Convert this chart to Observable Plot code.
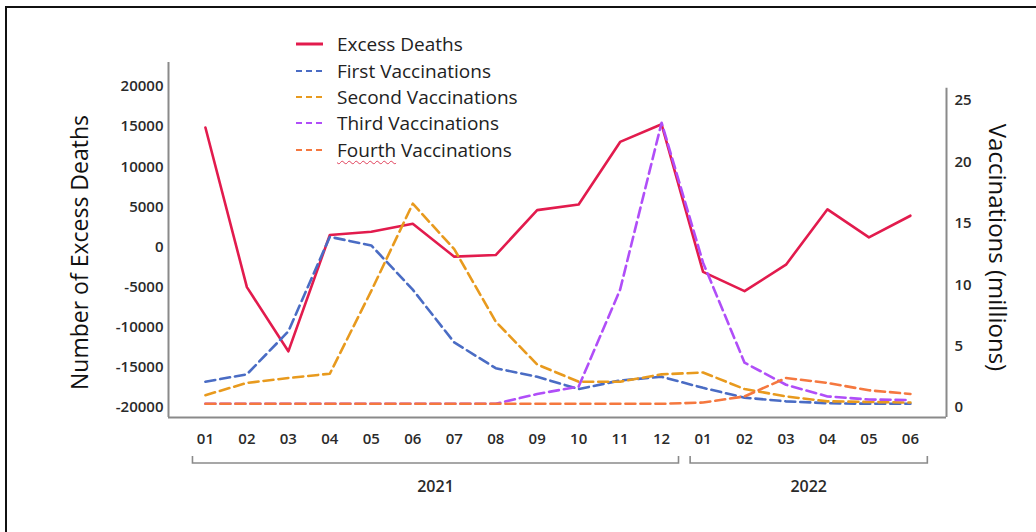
<!DOCTYPE html>
<html>
<head>
<meta charset="utf-8">
<script src="https://cdn.jsdelivr.net/npm/d3@7"></script>
<script src="https://cdn.jsdelivr.net/npm/@observablehq/plot@0.6"></script>
<style>
  html, body { margin: 0; padding: 0; background: #fff; }
  #wrap { position: relative; width: 1036px; height: 532px; overflow: hidden; font-family: "Open Sans", sans-serif; }
  #border { position: absolute; left: 5px; top: 6px; width: 1040px; height: 540px; border-top: 2px solid #111; border-left: 2px solid #111; }
  #chart { position: absolute; left: 0; top: 0; }
  #legend { position: absolute; left: 296px; top: 31px; font-size: 19px; color: #222; }
  #legend .row { height: 26.4px; display: flex; align-items: center; white-space: nowrap; }
  #legend svg { width: 27px; height: 10px; margin-right: 14px; flex: none; }
  .squiggle { text-decoration: underline wavy #e0405a; text-decoration-thickness: 1px; text-underline-offset: 3px; }
</style>
</head>
<body>
<div id="wrap">
  <div id="border"></div>
  <div id="chart"></div>
  <div id="legend"></div>
</div>
<script>
// ---- Data ----
const months = ["01","02","03","04","05","06","07","08","09","10","11","12","01","02","03","04","05","06"];
const years = ["2021","2021","2021","2021","2021","2021","2021","2021","2021","2021","2021","2021","2022","2022","2022","2022","2022","2022"];
const excessDeaths = [14900, -5000, -13000, 1500, 1900, 2900, -1200, -1000, 4600, 5300, 13100, 15300, -3100, -5500, -2200, 4700, 1200, 3900];
// vaccinations in millions
const firstVacc  = [2.1, 2.7, 6.2, 13.9, 13.2, 9.6, 5.3, 3.2, 2.5, 1.5, 2.2, 2.5, 1.6, 0.8, 0.5, 0.35, 0.3, 0.3];
const secondVacc = [1.0, 2.0, 2.4, 2.75, 9.5, 16.6, 12.9, 7.0, 3.5, 2.1, 2.1, 2.7, 2.85, 1.5, 0.9, 0.5, 0.45, 0.4];
const thirdVacc  = [0.3, 0.3, 0.3, 0.3, 0.3, 0.3, 0.3, 0.3, 1.1, 1.7, 9.6, 23.2, 11.8, 3.65, 1.85, 0.9, 0.65, 0.6];
const fourthVacc = [0.3, 0.3, 0.3, 0.3, 0.3, 0.3, 0.3, 0.3, 0.3, 0.3, 0.3, 0.3, 0.4, 0.9, 2.4, 2.0, 1.4, 1.1];
const leftTicks = [-20000, -15000, -10000, -5000, 0, 5000, 10000, 15000, 20000];
const rightTicks = [0, 5, 10, 15, 20, 25];
const seriesNames = ["Excess Deaths", "First Vaccinations", "Second Vaccinations", "Third Vaccinations", "Fourth Vaccinations"];
const seriesColors = ["#e21b4d", "#4a6cc4", "#e89a1e", "#b04ef8", "#f5783f"];

(function () {
// ---- Dual-axis mapping: millions -> left-axis units ----
const k = 1530, b = -20000;
const toLeft = v => v * k + b;
const yDomain = [-21250, 23000];
const xDomain = [-0.89, 17.87];
const idx = d3.range(months.length);

const vaccSeries = [firstVacc, secondVacc, thirdVacc, fourthVacc];
const deathRows = idx.map(i => ({i, y: excessDeaths[i]}));
const vaccRows = vaccSeries.map(arr => idx.map(i => ({i, y: toLeft(arr[i])})));

const axisColor = "#8a8a8a";
const tickFont = {fontSize: 15, fontWeight: 600, fill: "#2a2a2a"};

const chart = Plot.plot({
  width: 1036,
  height: 532,
  marginLeft: 168,
  marginRight: 90,
  marginTop: 62,
  marginBottom: 115,
  style: {fontFamily: "Open Sans, sans-serif", background: "transparent", overflow: "visible"},
  x: {type: "linear", domain: xDomain, axis: null},
  y: {domain: yDomain, axis: null},
  marks: [
    Plot.axisY(leftTicks, {anchor: "left", tickSize: 0, tickPadding: 5, label: null, ...tickFont, tickFormat: d => String(d)}),
    Plot.axisY(rightTicks.map(toLeft), {anchor: "right", tickSize: 0, tickPadding: 8, label: null, ...tickFont,
      tickFormat: d => String(Math.round((d - b) / k))}),
    Plot.axisX(idx, {anchor: "bottom", tickSize: 0, tickPadding: 16, label: null, ...tickFont,
      tickFormat: i => months[i]}),
    Plot.ruleX([xDomain[0]], {stroke: axisColor, strokeWidth: 2}),
    Plot.ruleX([xDomain[1]], {y1: toLeft(26), y2: yDomain[0], stroke: axisColor, strokeWidth: 2}),
    Plot.ruleY([yDomain[0]], {stroke: axisColor, strokeWidth: 2}),
    Plot.line(deathRows, {x: "i", y: "y", stroke: seriesColors[0], strokeWidth: 2.6, curve: "linear"}),
    ...vaccRows.map((rows, s) => Plot.line(rows, {x: "i", y: "y", stroke: seriesColors[s + 1], strokeWidth: 2.6,
      strokeDasharray: "10,5", curve: "linear"}))
  ]
});
document.getElementById("chart").appendChild(chart);

// ---- Axis titles, year brackets (positions from the Plot scales) ----
const svg = d3.select(chart);
const xs = chart.scale("x"), ys = chart.scale("y");
const px = v => xs.apply(v), py = v => ys.apply(v);
const yBottom = py(yDomain[0]);
const yTop = py(yDomain[1]);

svg.append("text")
  .attr("transform", `translate(82, ${(yTop + yBottom) / 2 + 13}) rotate(-90)`)
  .attr("text-anchor", "middle").attr("dominant-baseline", "middle")
  .attr("font-size", 23).attr("font-weight", 500).attr("fill", "#111").attr("font-family", "Open Sans, sans-serif")
  .text("Number of Excess Deaths");
svg.append("text")
  .attr("transform", `translate(995, ${(yTop + yBottom) / 2 + 8}) rotate(90)`)
  .attr("text-anchor", "middle").attr("dominant-baseline", "middle")
  .attr("font-size", 24).attr("font-weight", 500).attr("fill", "#111").attr("font-family", "Open Sans, sans-serif")
  .text("Vaccinations (millions)");

const groups = d3.groups(idx, i => years[i]);
const by = yBottom + 46;
for (const [yr, ii] of groups) {
  const x1 = px(ii[0] - 0.3), x2 = px(ii[ii.length - 1] + 0.42);
  svg.append("path")
    .attr("d", `M${x1},${by - 7}V${by}H${x2}V${by - 7}`)
    .attr("fill", "none").attr("stroke", axisColor).attr("stroke-width", 1.6);
  svg.append("text")
    .attr("x", (x1 + x2) / 2).attr("y", by + 25)
    .attr("text-anchor", "middle").attr("dominant-baseline", "middle")
    .attr("font-size", 16).attr("font-weight", 600).attr("fill", "#2a2a2a")
    .attr("font-family", "Open Sans, sans-serif")
    .text(yr);
}

// ---- Legend ----
const legend = d3.select("#legend");
seriesNames.forEach((name, s) => {
  const row = legend.append("div").attr("class", "row");
  const sv = row.append("svg");
  sv.append("line").attr("x1", 0).attr("x2", 27).attr("y1", 5).attr("y2", 5)
    .attr("stroke", seriesColors[s]).attr("stroke-width", s === 0 ? 3 : 2.2)
    .attr("stroke-dasharray", s === 0 ? null : "6,4");
  const label = row.append("span");
  if (name.startsWith("Fourth")) {
    label.append("span").attr("class", "squiggle").text("Fourth");
    label.append("span").text(" Vaccinations");
  } else {
    label.text(name);
  }
});
})();
</script>
</body>
</html>
